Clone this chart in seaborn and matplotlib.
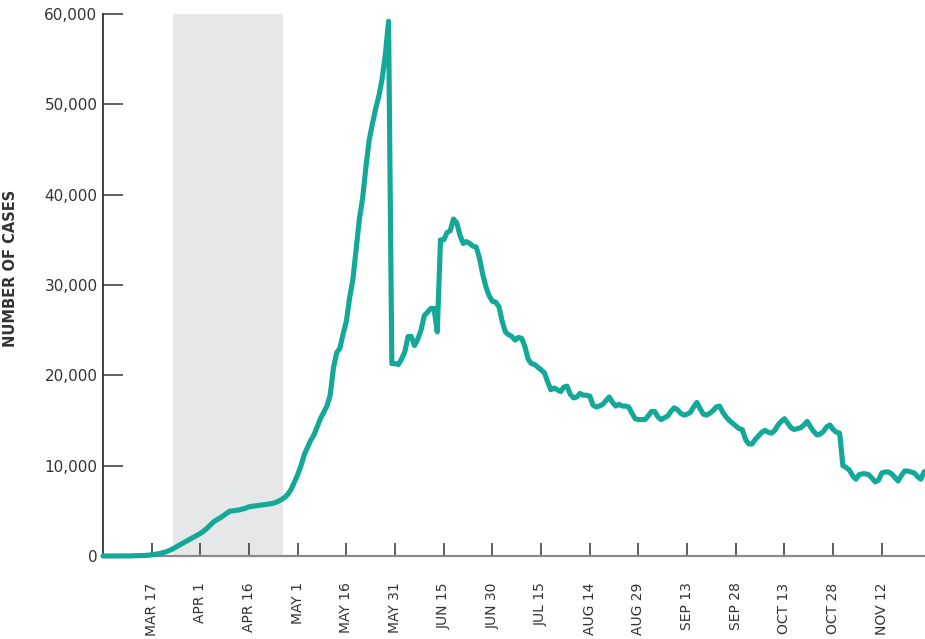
import numpy as np
import pandas as pd
import matplotlib
matplotlib.use("Agg")
import matplotlib.pyplot as plt
from matplotlib.ticker import FuncFormatter
import seaborn as sns

# ---- data (daily cases, day 0 = first day shown) ----
cases = [
    0, 0, 0, 0, 0, 0, 0, 10, 10, 20,
    20, 30, 40, 60, 90, 130, 180, 240, 320, 420,
    540, 700, 880, 1100, 1300, 1500, 1700, 1900, 2100, 2300,
    2500, 2750, 3050, 3400, 3750, 4000, 4200, 4450, 4700, 4950,
    5000, 5050, 5100, 5200, 5300, 5450, 5500, 5550, 5600, 5650,
    5700, 5750, 5800, 5900, 6050, 6250, 6500, 6850, 7400, 8200,
    9000, 10000, 11200, 12000, 12800, 13400, 14300, 15200, 15900, 16600,
    17800, 20800, 22500, 23000, 24600, 26000, 28600, 30600, 33900, 37300,
    39600, 43000, 46000, 47800, 49500, 50900, 52800, 55500, 59200, 21300,
    21300, 21200, 21800, 22600, 24300, 24300, 23300, 24000, 25000, 26600,
    27000, 27400, 27400, 24800, 35000, 35000, 35800, 36000, 37300, 36900,
    35500, 34600, 34800, 34600, 34300, 34200, 33000, 31200, 29800, 28800,
    28200, 28100, 27600, 26000, 24800, 24500, 24300, 23900, 24200, 24100,
    23200, 21800, 21300, 21200, 20900, 20600, 20300, 19300, 18400, 18600,
    18400, 18200, 18700, 18800, 17900, 17500, 17600, 18000, 17800, 17800,
    17700, 16700, 16500, 16600, 16800, 17200, 17600, 17000, 16600, 16800,
    16600, 16600, 16500, 15800, 15200, 15100, 15100, 15100, 15500, 16000,
    16000, 15400, 15100, 15300, 15500, 16000, 16400, 16200, 15800, 15600,
    15700, 15900, 16500, 17000, 16300, 15700, 15600, 15800, 16100, 16500,
    16600, 15900, 15400, 15000, 14700, 14400, 14100, 14000, 12900, 12400,
    12400, 12900, 13300, 13700, 13900, 13700, 13600, 13900, 14500, 14900,
    15200, 14700, 14200, 14000, 14100, 14200, 14500, 14900, 14300, 13800,
    13400, 13500, 13800, 14300, 14500, 14000, 13700, 13600, 10000, 9800,
    9500, 8900, 8500, 9000, 9100, 9100, 9000, 8600, 8200, 8400,
    9200, 9300, 9300, 9100, 8700, 8300, 8900, 9400, 9400, 9300,
    9200, 8800, 8500, 9300, 9500,
]
days = list(range(len(cases)))

tick_days = [15, 30, 45, 60, 75, 90, 105, 120, 135, 150, 165, 180, 195, 210, 225]
tick_labels = ["MAR 17", "APR 1", "APR 16", "MAY 1", "MAY 16", "MAY 31", "JUN 15",
               "JUN 30", "JUL 15", "AUG 14", "AUG 29", "SEP 13", "SEP 28",
               "OCT 13", "OCT 28", "NOV 12"]
tick_days = [15 + 15 * i for i in range(len(tick_labels))]

y_ticks = [0, 10000, 20000, 30000, 40000, 50000, 60000]

lockdown_start = 21.6
lockdown_end = 55.5

df = pd.DataFrame({"day": days, "cases": cases})

# ---- style ----
sns.set_style("white")
plt.rcParams["font.family"] = ["DejaVu Sans"]

LINE = "#14A898"
SHADE = "#E6E7E8"
TEXT = "#333333"

fig = plt.figure(figsize=(9.25, 6.39), dpi=100)
ax = fig.add_axes([103 / 925, 1 - 556 / 639, (925 - 103) / 925, 542 / 639])

ax.axvspan(lockdown_start, lockdown_end, color=SHADE, lw=0, zorder=0)

sns.lineplot(data=df, x="day", y="cases", ax=ax, color=LINE, linewidth=3.7,
             solid_joinstyle="round", solid_capstyle="round", zorder=3)
for ln in ax.lines:
    ln.set_clip_on(False)

ax.set_xlim(0, 253.3)
ax.set_ylim(0, 60000)

ax.set_yticks(y_ticks)
ax.yaxis.set_major_formatter(FuncFormatter(lambda v, p: f"{int(v):,}"))
ax.set_xticks(tick_days)
ax.set_xticklabels(tick_labels, rotation=90, ha="center", va="top")

ax.tick_params(axis="y", direction="in", length=14.5, width=1.1, color="#333333",
               labelsize=11, labelcolor=TEXT, pad=4, left=True)
ax.tick_params(axis="x", direction="in", length=9.5, width=1.1, color="#333333",
               labelsize=10, labelcolor=TEXT, pad=19, bottom=True)

for s in ["top", "right"]:
    ax.spines[s].set_visible(False)
ax.spines["left"].set_color("#222222")
ax.spines["left"].set_linewidth(1.2)
ax.spines["bottom"].set_color("#8a8a8a")
ax.spines["bottom"].set_linewidth(1.6)

ax.set_xlabel("")
ax.set_ylabel("NUMBER OF CASES", fontsize=10.5, fontweight="bold", color=TEXT)
ax.yaxis.set_label_coords(-0.103, 0.53)

fig.savefig("out.png", dpi=100)
